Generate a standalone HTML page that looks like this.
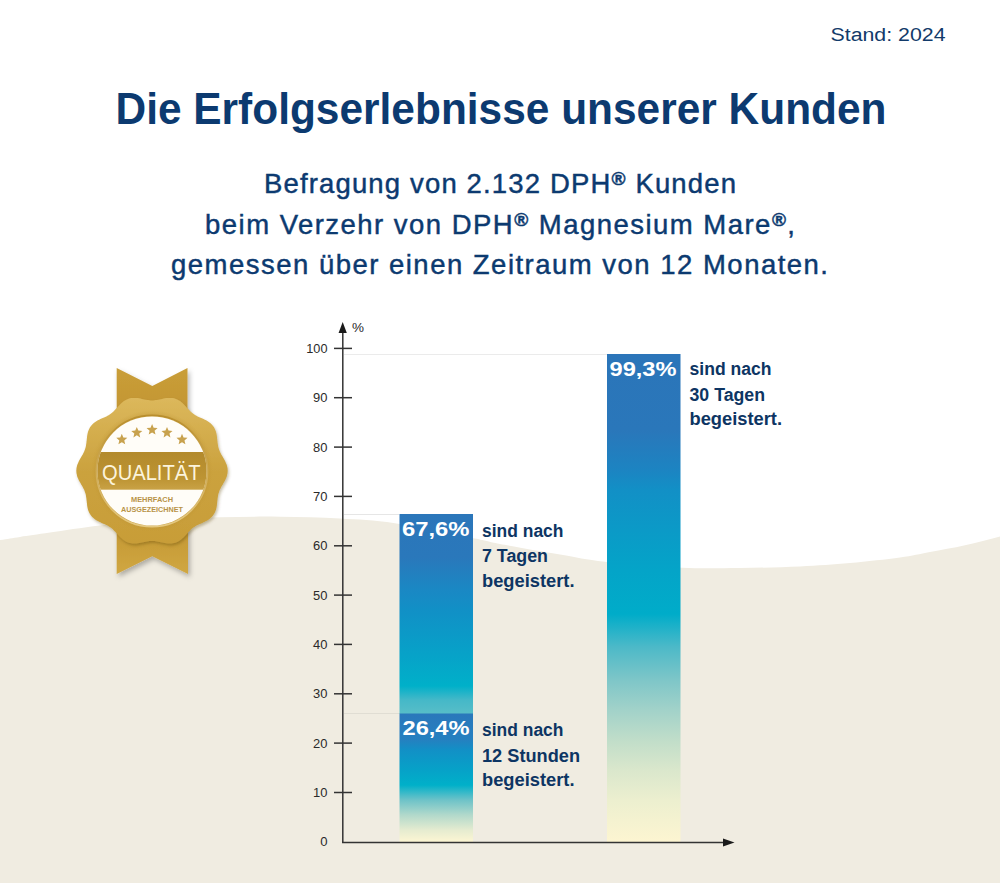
<!DOCTYPE html>
<html><head><meta charset="utf-8">
<style>
html,body{margin:0;padding:0;background:#fff;}
body{width:1000px;height:883px;overflow:hidden;position:relative;}
svg{position:absolute;left:0;top:0;display:block;}
text{font-family:"Liberation Sans",sans-serif;}
</style></head>
<body>
<svg width="1000" height="883" viewBox="0 0 1000 883">
<defs>
  <linearGradient id="gR" x1="0" y1="354" x2="0" y2="842" gradientUnits="userSpaceOnUse">
    <stop offset="0" stop-color="#2b75b9"/>
    <stop offset="0.156" stop-color="#2a77ba"/>
    <stop offset="0.238" stop-color="#1c84c2"/>
    <stop offset="0.279" stop-color="#1290c6"/>
    <stop offset="0.443" stop-color="#04a4c8"/>
    <stop offset="0.533" stop-color="#00acc9"/>
    <stop offset="0.60" stop-color="#4cb9c8"/>
    <stop offset="0.668" stop-color="#7ec6c8"/>
    <stop offset="0.73" stop-color="#a2d2c9"/>
    <stop offset="0.795" stop-color="#c2dec9"/>
    <stop offset="0.853" stop-color="#dae7cc"/>
    <stop offset="0.914" stop-color="#ecefcf"/>
    <stop offset="1" stop-color="#fdf5d1"/>
  </linearGradient>
  <linearGradient id="gL1" x1="0" y1="514" x2="0" y2="714" gradientUnits="userSpaceOnUse">
    <stop offset="0" stop-color="#2b76ba"/>
    <stop offset="0.22" stop-color="#2a78bb"/>
    <stop offset="0.38" stop-color="#1a88c4"/>
    <stop offset="0.48" stop-color="#1190c6"/>
    <stop offset="0.68" stop-color="#08a0c8"/>
    <stop offset="0.86" stop-color="#00b0c9"/>
    <stop offset="0.93" stop-color="#45b8c8"/>
    <stop offset="1" stop-color="#58bec8"/>
  </linearGradient>
  <linearGradient id="gL2" x1="0" y1="714" x2="0" y2="842" gradientUnits="userSpaceOnUse">
    <stop offset="0" stop-color="#2a78bb"/>
    <stop offset="0.2" stop-color="#2580c0"/>
    <stop offset="0.28" stop-color="#1290c6"/>
    <stop offset="0.44" stop-color="#06a2c8"/>
    <stop offset="0.555" stop-color="#00b0c9"/>
    <stop offset="0.67" stop-color="#6cc2c8"/>
    <stop offset="0.79" stop-color="#b2d9cb"/>
    <stop offset="0.91" stop-color="#e6ecd0"/>
    <stop offset="1" stop-color="#fdf6d3"/>
  </linearGradient>
</defs>

<!-- beige ground -->
<path d="M0,540 C8.3,538.8 11.7,538.1 20,536.9 C28.3,535.7 36.7,534.5 50,532.6 C63.3,530.7 81.7,527.6 100,525.5 C118.3,523.4 140.0,521.4 160,520 C180.0,518.6 200.0,517.8 220,517.2 C240.0,516.7 260.0,516.5 280,516.7 C300.0,516.9 320.8,517.4 340,518.5 C359.2,519.6 372.5,519.9 395,523.2 C417.5,526.6 457.5,535.1 475,538.6 C492.5,542.1 485.8,541.3 500,544 C514.2,546.7 542.5,551.6 560,554.6 C577.5,557.6 584.7,559.6 605,561.8 C625.3,564.0 659.5,566.8 682,567.8 C704.5,568.8 720.3,568.2 740,568 C759.7,567.8 781.7,567.2 800,566.4 C818.3,565.6 833.3,564.5 850,563 C866.7,561.5 886.7,559.3 900,557.5 C913.3,555.7 919.2,554.0 930,552 C940.8,550.0 953.3,547.8 965,545.2 C976.7,542.6 989.2,539.3 1000,536.4 L1000,883 L0,883 Z" fill="#f0ece1"/>

<!-- header texts -->
<text x="830.5" y="41" font-size="18.8" fill="#123a6a" textLength="115" lengthAdjust="spacingAndGlyphs">Stand: 2024</text>
<text x="115.5" y="123.8" font-size="45" font-weight="bold" fill="#0c3a70" textLength="771" lengthAdjust="spacingAndGlyphs">Die Erfolgserlebnisse unserer Kunden</text>
<text x="264" y="193" font-size="27.5" fill="#0c3a70" stroke="#0c3a70" stroke-width="0.45" textLength="472" lengthAdjust="spacing">Befragung von 2.132 DPH<tspan font-size="19" font-weight="bold" dy="-8">®</tspan><tspan dy="8"> Kunden</tspan></text>
<text x="205" y="233.5" font-size="27.5" fill="#0c3a70" stroke="#0c3a70" stroke-width="0.45" textLength="590" lengthAdjust="spacing">beim Verzehr von DPH<tspan font-size="19" font-weight="bold" dy="-8">®</tspan><tspan dy="8"> Magnesium Mare</tspan><tspan font-size="19" font-weight="bold" dy="-8">®</tspan><tspan dy="8">,</tspan></text>
<text x="171" y="273.5" font-size="27.5" fill="#0c3a70" stroke="#0c3a70" stroke-width="0.45" textLength="657" lengthAdjust="spacing">gemessen über einen Zeitraum von 12 Monaten.</text>

<!-- gridlines -->
<line x1="344" y1="354.5" x2="607" y2="354.5" stroke="#ebebeb" stroke-width="1"/>
<line x1="344" y1="514.5" x2="399" y2="514.5" stroke="#e6e6e6" stroke-width="1"/>
<line x1="344" y1="713.5" x2="399" y2="713.5" stroke="#e0ddd3" stroke-width="1"/>

<!-- bars -->
<rect x="399.5" y="514" width="73.5" height="200" fill="url(#gL1)"/>
<rect x="399.5" y="713.5" width="73.5" height="128.5" fill="url(#gL2)"/>
<rect x="607" y="354" width="73.5" height="488" fill="url(#gR)"/>

<!-- axes -->
<g stroke="#333333" stroke-width="1.5" fill="none">
  <line x1="342.8" y1="332" x2="342.8" y2="843.1"/>
  <line x1="342" y1="842.4" x2="724" y2="842.4"/>
  <line x1="334" y1="348.4" x2="352" y2="348.4"/>
  <line x1="334" y1="397.7" x2="352" y2="397.7"/>
  <line x1="334" y1="447.1" x2="352" y2="447.1"/>
  <line x1="334" y1="496.4" x2="352" y2="496.4"/>
  <line x1="334" y1="545.8" x2="352" y2="545.8"/>
  <line x1="334" y1="595.1" x2="352" y2="595.1"/>
  <line x1="334" y1="644.4" x2="352" y2="644.4"/>
  <line x1="334" y1="693.8" x2="352" y2="693.8"/>
  <line x1="334" y1="743.1" x2="352" y2="743.1"/>
  <line x1="334" y1="792.5" x2="352" y2="792.5"/>
</g>
<path d="M342.7,322 L346.8,333 L338.6,333 Z" fill="#1a1a1a"/>
<path d="M734.5,842.4 L723,838.4 L723,846.4 Z" fill="#1a1a1a"/>
<g font-size="12" fill="#2a2a2a" text-anchor="end">
  <text x="327.5" y="352.8" textLength="21.2" lengthAdjust="spacingAndGlyphs">100</text>
  <text x="327.5" y="402.1" textLength="14.4" lengthAdjust="spacingAndGlyphs">90</text>
  <text x="327.5" y="451.5" textLength="14.4" lengthAdjust="spacingAndGlyphs">80</text>
  <text x="327.5" y="500.8" textLength="14.4" lengthAdjust="spacingAndGlyphs">70</text>
  <text x="327.5" y="550.2" textLength="14.4" lengthAdjust="spacingAndGlyphs">60</text>
  <text x="327.5" y="599.5" textLength="14.4" lengthAdjust="spacingAndGlyphs">50</text>
  <text x="327.5" y="648.8" textLength="14.4" lengthAdjust="spacingAndGlyphs">40</text>
  <text x="327.5" y="698.2" textLength="14.4" lengthAdjust="spacingAndGlyphs">30</text>
  <text x="327.5" y="747.5" textLength="14.4" lengthAdjust="spacingAndGlyphs">20</text>
  <text x="327.5" y="796.9" textLength="14.4" lengthAdjust="spacingAndGlyphs">10</text>
  <text x="327.5" y="846.2" textLength="7.3" lengthAdjust="spacingAndGlyphs">0</text>
</g>
<text x="352" y="332" font-size="12" fill="#2a2a2a" textLength="12" lengthAdjust="spacingAndGlyphs">%</text>

<!-- bar value labels -->
<g font-size="19.5" font-weight="bold" fill="#ffffff">
  <text x="609.5" y="375.5" textLength="67" lengthAdjust="spacingAndGlyphs">99,3%</text>
  <text x="402" y="536" textLength="67.5" lengthAdjust="spacingAndGlyphs">67,6%</text>
  <text x="402.5" y="735" textLength="67" lengthAdjust="spacingAndGlyphs">26,4%</text>
</g>

<!-- side labels -->
<g font-size="18" font-weight="bold" fill="#0d3563">
  <text x="482" y="537" textLength="81.5" lengthAdjust="spacingAndGlyphs">sind nach</text>
  <text x="482" y="562" textLength="66" lengthAdjust="spacingAndGlyphs">7 Tagen</text>
  <text x="482" y="586.5" textLength="92.5" lengthAdjust="spacingAndGlyphs">begeistert.</text>
  <text x="482" y="736.2" textLength="81.5" lengthAdjust="spacingAndGlyphs">sind nach</text>
  <text x="482" y="761.5" textLength="98" lengthAdjust="spacingAndGlyphs">12 Stunden</text>
  <text x="482" y="786.2" textLength="92.5" lengthAdjust="spacingAndGlyphs">begeistert.</text>
  <text x="689.5" y="375.4" textLength="82" lengthAdjust="spacingAndGlyphs">sind nach</text>
  <text x="689.5" y="400.7" textLength="75.5" lengthAdjust="spacingAndGlyphs">30 Tagen</text>
  <text x="689.5" y="425.4" textLength="92.5" lengthAdjust="spacingAndGlyphs">begeistert.</text>
</g>

<!-- badge placeholder -->
<g id="badge">
  <defs>
    <filter id="sh" x="-30%" y="-30%" width="160%" height="160%">
      <feDropShadow dx="2" dy="3" stdDeviation="2.5" flood-color="#000" flood-opacity="0.28"/>
    </filter>
    <filter id="sh2" x="-30%" y="-30%" width="160%" height="160%">
      <feDropShadow dx="1.2" dy="2" stdDeviation="1.8" flood-color="#5a4000" flood-opacity="0.35"/>
    </filter>
    <linearGradient id="gRibT" x1="0" y1="368" x2="0" y2="420" gradientUnits="userSpaceOnUse">
      <stop offset="0" stop-color="#c99e38"/>
      <stop offset="1" stop-color="#c29432"/>
    </linearGradient>
    <linearGradient id="gRibB" x1="0" y1="530" x2="0" y2="574" gradientUnits="userSpaceOnUse">
      <stop offset="0" stop-color="#c49833"/>
      <stop offset="1" stop-color="#d0a742"/>
    </linearGradient>
    <linearGradient id="gRib" x1="0" y1="0" x2="0" y2="1">
      <stop offset="0" stop-color="#c99d38"/>
      <stop offset="1" stop-color="#c29331"/>
    </linearGradient>
    <linearGradient id="gSeal" x1="0" y1="397" x2="0" y2="545" gradientUnits="userSpaceOnUse">
      <stop offset="0" stop-color="#dcb85c"/>
      <stop offset="0.5" stop-color="#cba23e"/>
      <stop offset="1" stop-color="#c89d38"/>
    </linearGradient>
    <linearGradient id="gRing" x1="0" y1="414" x2="0" y2="528" gradientUnits="userSpaceOnUse">
      <stop offset="0" stop-color="#b88d2c"/>
      <stop offset="1" stop-color="#e6ca82"/>
    </linearGradient>
    <linearGradient id="gBand" x1="0" y1="452" x2="0" y2="490" gradientUnits="userSpaceOnUse">
      <stop offset="0" stop-color="#b38a2c"/>
      <stop offset="0.7" stop-color="#bd9433"/>
      <stop offset="1" stop-color="#c9a246"/>
    </linearGradient>
    <radialGradient id="gRingR" cx="152" cy="471" r="61" gradientUnits="userSpaceOnUse">
      <stop offset="0.85" stop-color="#b08526" stop-opacity="0.55"/>
      <stop offset="1" stop-color="#c49a36" stop-opacity="0"/>
    </radialGradient>
    <clipPath id="cIn"><circle cx="152" cy="471" r="54.6"/></clipPath>
  </defs>
  <g filter="url(#sh)">
    <path d="M116.7,367.9 L152.3,385.9 L187.5,367.9 L187.5,440 L116.7,440 Z" fill="url(#gRibT)"/>
    <path d="M116.7,500 L188,500 L188,573.9 L152.3,556.3 L116.7,573.9 Z" fill="url(#gRibB)"/>
  </g>
  <g filter="url(#sh2)">
    <path d="M152.0,400.4 L153.2,400.4 L154.5,400.3 L155.7,400.1 L156.9,399.9 L158.2,399.7 L159.5,399.4 L160.8,399.2 L162.1,398.9 L163.4,398.6 L164.8,398.3 L166.1,398.1 L167.5,398.0 L168.8,397.9 L170.2,397.9 L171.5,397.9 L172.8,398.1 L174.1,398.3 L175.4,398.7 L176.6,399.2 L177.8,399.7 L179.0,400.4 L180.1,401.1 L181.2,401.9 L182.2,402.8 L183.2,403.7 L184.2,404.7 L185.1,405.7 L186.1,406.7 L186.9,407.7 L187.8,408.6 L188.7,409.6 L189.6,410.5 L190.5,411.4 L191.4,412.3 L192.3,413.1 L193.3,413.8 L194.3,414.5 L195.4,415.2 L196.5,415.8 L197.6,416.4 L198.8,416.9 L199.9,417.5 L201.2,418.0 L202.4,418.5 L203.6,419.1 L204.8,419.7 L206.1,420.3 L207.3,421.0 L208.4,421.7 L209.5,422.4 L210.5,423.3 L211.5,424.2 L212.4,425.2 L213.2,426.2 L214.0,427.3 L214.6,428.5 L215.2,429.7 L215.7,430.9 L216.1,432.2 L216.4,433.5 L216.7,434.9 L216.9,436.2 L217.0,437.6 L217.2,438.9 L217.3,440.2 L217.5,441.6 L217.6,442.9 L217.8,444.1 L218.0,445.4 L218.2,446.6 L218.5,447.8 L218.9,449.0 L219.3,450.1 L219.7,451.3 L220.3,452.4 L220.8,453.5 L221.4,454.7 L222.1,455.8 L222.8,456.9 L223.4,458.1 L224.1,459.3 L224.8,460.5 L225.4,461.7 L225.9,462.9 L226.5,464.2 L226.9,465.5 L227.2,466.8 L227.5,468.1 L227.6,469.4 L227.7,470.7 L227.6,472.0 L227.5,473.3 L227.2,474.6 L226.9,475.9 L226.5,477.2 L225.9,478.5 L225.4,479.7 L224.8,480.9 L224.1,482.1 L223.4,483.3 L222.8,484.5 L222.1,485.6 L221.4,486.7 L220.8,487.9 L220.3,489.0 L219.7,490.1 L219.3,491.3 L218.9,492.4 L218.5,493.6 L218.2,494.8 L218.0,496.0 L217.8,497.3 L217.6,498.5 L217.5,499.8 L217.3,501.2 L217.2,502.5 L217.0,503.8 L216.9,505.2 L216.7,506.5 L216.4,507.9 L216.1,509.2 L215.7,510.5 L215.2,511.7 L214.6,512.9 L214.0,514.1 L213.2,515.2 L212.4,516.2 L211.5,517.2 L210.5,518.1 L209.5,519.0 L208.4,519.7 L207.3,520.4 L206.1,521.1 L204.8,521.7 L203.6,522.3 L202.4,522.9 L201.2,523.4 L199.9,523.9 L198.8,524.5 L197.6,525.0 L196.5,525.6 L195.4,526.2 L194.3,526.9 L193.3,527.6 L192.3,528.3 L191.4,529.1 L190.5,530.0 L189.6,530.9 L188.7,531.8 L187.8,532.8 L186.9,533.7 L186.1,534.7 L185.1,535.7 L184.2,536.7 L183.2,537.7 L182.2,538.6 L181.2,539.5 L180.1,540.3 L179.0,541.0 L177.8,541.7 L176.6,542.2 L175.4,542.7 L174.1,543.1 L172.8,543.3 L171.5,543.5 L170.2,543.5 L168.8,543.5 L167.5,543.4 L166.1,543.3 L164.8,543.1 L163.4,542.8 L162.1,542.5 L160.8,542.2 L159.5,542.0 L158.2,541.7 L156.9,541.5 L155.7,541.3 L154.5,541.1 L153.2,541.0 L152.0,541.0 L150.8,541.0 L149.5,541.1 L148.3,541.3 L147.1,541.5 L145.8,541.7 L144.5,542.0 L143.2,542.2 L141.9,542.5 L140.6,542.8 L139.2,543.1 L137.9,543.3 L136.5,543.4 L135.2,543.5 L133.8,543.5 L132.5,543.5 L131.2,543.3 L129.9,543.1 L128.6,542.7 L127.4,542.2 L126.2,541.7 L125.0,541.0 L123.9,540.3 L122.8,539.5 L121.8,538.6 L120.8,537.7 L119.8,536.7 L118.9,535.7 L117.9,534.7 L117.1,533.7 L116.2,532.8 L115.3,531.8 L114.4,530.9 L113.5,530.0 L112.6,529.1 L111.7,528.3 L110.7,527.6 L109.7,526.9 L108.6,526.2 L107.5,525.6 L106.4,525.0 L105.2,524.5 L104.1,523.9 L102.8,523.4 L101.6,522.9 L100.4,522.3 L99.2,521.7 L97.9,521.1 L96.7,520.4 L95.6,519.7 L94.5,519.0 L93.5,518.1 L92.5,517.2 L91.6,516.2 L90.8,515.2 L90.0,514.1 L89.4,512.9 L88.8,511.7 L88.3,510.5 L87.9,509.2 L87.6,507.9 L87.3,506.5 L87.1,505.2 L87.0,503.8 L86.8,502.5 L86.7,501.2 L86.5,499.8 L86.4,498.5 L86.2,497.3 L86.0,496.0 L85.8,494.8 L85.5,493.6 L85.1,492.4 L84.7,491.3 L84.3,490.1 L83.7,489.0 L83.2,487.9 L82.6,486.7 L81.9,485.6 L81.2,484.5 L80.6,483.3 L79.9,482.1 L79.2,480.9 L78.6,479.7 L78.1,478.5 L77.5,477.2 L77.1,475.9 L76.8,474.6 L76.5,473.3 L76.4,472.0 L76.3,470.7 L76.4,469.4 L76.5,468.1 L76.8,466.8 L77.1,465.5 L77.5,464.2 L78.1,462.9 L78.6,461.7 L79.2,460.5 L79.9,459.3 L80.6,458.1 L81.2,456.9 L81.9,455.8 L82.6,454.7 L83.2,453.5 L83.7,452.4 L84.3,451.3 L84.7,450.1 L85.1,449.0 L85.5,447.8 L85.8,446.6 L86.0,445.4 L86.2,444.1 L86.4,442.9 L86.5,441.6 L86.7,440.2 L86.8,438.9 L87.0,437.6 L87.1,436.2 L87.3,434.9 L87.6,433.5 L87.9,432.2 L88.3,430.9 L88.8,429.7 L89.4,428.5 L90.0,427.3 L90.8,426.2 L91.6,425.2 L92.5,424.2 L93.5,423.3 L94.5,422.4 L95.6,421.7 L96.7,421.0 L97.9,420.3 L99.2,419.7 L100.4,419.1 L101.6,418.5 L102.8,418.0 L104.1,417.5 L105.2,416.9 L106.4,416.4 L107.5,415.8 L108.6,415.2 L109.7,414.5 L110.7,413.8 L111.7,413.1 L112.6,412.3 L113.5,411.4 L114.4,410.5 L115.3,409.6 L116.2,408.6 L117.1,407.7 L117.9,406.7 L118.9,405.7 L119.8,404.7 L120.8,403.7 L121.8,402.8 L122.8,401.9 L123.9,401.1 L125.0,400.4 L126.2,399.7 L127.4,399.2 L128.6,398.7 L129.9,398.3 L131.2,398.1 L132.5,397.9 L133.8,397.9 L135.2,397.9 L136.5,398.0 L137.9,398.1 L139.2,398.3 L140.6,398.6 L141.9,398.9 L143.2,399.2 L144.5,399.4 L145.8,399.7 L147.1,399.9 L148.3,400.1 L149.5,400.3 L150.8,400.4Z" fill="url(#gSeal)"/>
  </g>
  <circle cx="152" cy="471" r="61" fill="url(#gRingR)"/>
  <circle cx="152" cy="471" r="55.6" fill="none" stroke="url(#gRing)" stroke-width="1.6"/>
  <circle cx="152" cy="471" r="54.6" fill="#fffdf8"/>
  <rect x="90" y="452" width="124" height="37.7" fill="url(#gBand)" clip-path="url(#cIn)"/>
  <path d="M121.80,433.80 L123.33,437.50 L127.32,437.81 L124.27,440.40 L125.21,444.29 L121.80,442.20 L118.39,444.29 L119.33,440.40 L116.28,437.81 L120.27,437.50Z M136.80,426.90 L138.33,430.60 L142.32,430.91 L139.27,433.50 L140.21,437.39 L136.80,435.30 L133.39,437.39 L134.33,433.50 L131.28,430.91 L135.27,430.60Z M152.10,424.10 L153.63,427.80 L157.62,428.11 L154.57,430.70 L155.51,434.59 L152.10,432.50 L148.69,434.59 L149.63,430.70 L146.58,428.11 L150.57,427.80Z M167.00,426.90 L168.53,430.60 L172.52,430.91 L169.47,433.50 L170.41,437.39 L167.00,435.30 L163.59,437.39 L164.53,433.50 L161.48,430.91 L165.47,430.60Z M182.00,433.80 L183.53,437.50 L187.52,437.81 L184.47,440.40 L185.41,444.29 L182.00,442.20 L178.59,444.29 L179.53,440.40 L176.48,437.81 L180.47,437.50Z" fill="#c8a24e"/>
  <text x="102" y="480.2" font-size="22.3" fill="#fcf4dc" textLength="98.5" lengthAdjust="spacingAndGlyphs">QUALIT&#196;T</text>
  <text x="131" y="501.6" font-size="7.6" font-weight="bold" fill="#b89347" textLength="42" lengthAdjust="spacingAndGlyphs">MEHRFACH</text>
  <text x="121" y="511.7" font-size="7.6" font-weight="bold" fill="#b89347" textLength="62" lengthAdjust="spacingAndGlyphs">AUSGEZEICHNET</text>
</g>
</svg>
</body></html>
